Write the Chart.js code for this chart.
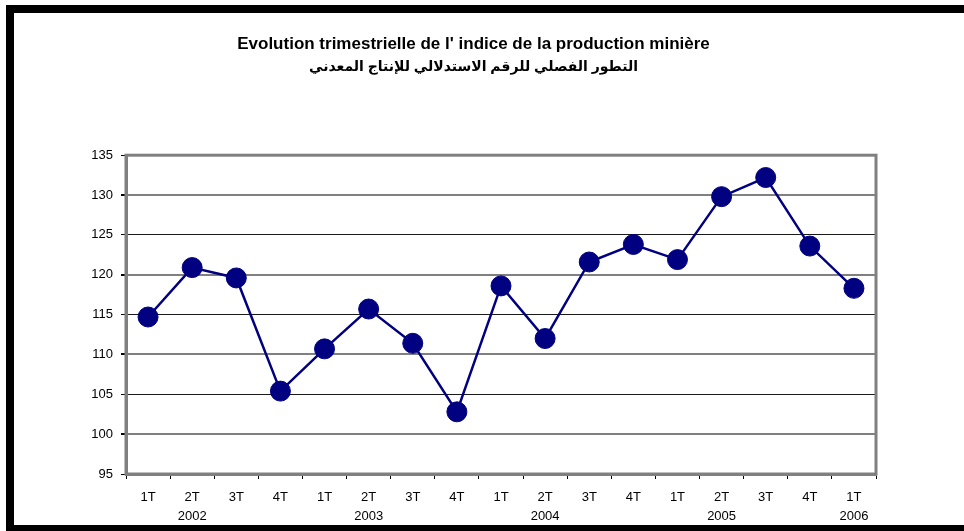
<!DOCTYPE html>
<html>
<head>
<meta charset="utf-8">
<script src="https://cdn.jsdelivr.net/npm/chart.js@4.4.1/dist/chart.umd.min.js"></script>
<style>
  html, body { margin: 0; padding: 0; background: #fff; overflow: hidden; }
  body { width: 964px; height: 531px; position: relative; }
  .frame {
    position: absolute; left: 6px; top: 5px; width: 1000px; height: 526px;
    box-sizing: border-box;
    border-top: 8px solid #000; border-left: 8px solid #000; border-bottom: 6px solid #000;
  }
  #chartMine { position: absolute; left: 0; top: 0; }
</style>
</head>
<body>
<div class="frame"></div>
<canvas id="chartMine" width="964" height="531"></canvas>
<script>
// ── données ──
const TITLE    = "Evolution trimestrielle de l' indice de la production minière";
const SUBTITLE = "التطور الفصلي للرقم الاستدلالي للإنتاج المعدني";

const quarters = ["1T","2T","3T","4T","1T","2T","3T","4T","1T","2T","3T","4T","1T","2T","3T","4T","1T"];
const years    = ["","2002","","","","2003","","","","2004","","","","2005","","","2006"];
const indice   = [114.7, 120.9, 119.6, 105.4, 110.7, 115.7, 111.4, 102.8,
                  118.6, 112.0, 121.6, 123.8, 121.9, 129.8, 132.2, 123.6, 118.3];
const yTicks   = { min: 95, max: 135, step: 5 };

const FONT  = "'Liberation Sans', Arial, 'DejaVu Sans', sans-serif";
const NAVY  = "#000080";
const GRAY  = "#808080";

const labels = quarters.map((q, i) => [q, years[i]]);

// cadre gris de la zone de tracé
const plotBorder = {
  id: "plotBorder",
  beforeDatasetsDraw(chart) {
    const { ctx, chartArea: a } = chart;
    ctx.save();
    ctx.strokeStyle = GRAY;
    ctx.lineWidth = 3;
    ctx.strokeRect(a.left, a.top, a.right - a.left, a.bottom - a.top);
    ctx.restore();
  }
};

new Chart(document.getElementById("chartMine"), {
  type: "line",
  data: {
    labels,
    datasets: [{
      data: indice,
      borderColor: NAVY,
      backgroundColor: NAVY,
      borderWidth: 2.5,
      pointRadius: 10,
      pointBackgroundColor: NAVY,
      pointBorderColor: NAVY,
      pointBorderWidth: 1,
      tension: 0,
      fill: false
    }]
  },
  plugins: [plotBorder],
  options: {
    responsive: false,
    animation: false,
    events: [],
    layout: { padding: { left: 71, right: 88, top: 0, bottom: 0 } },
    plugins: {
      legend: { display: false },
      tooltip: { enabled: false },
      title: {
        display: true,
        text: TITLE,
        color: "#000",
        font: { family: FONT, size: 17, weight: "bold", lineHeight: 1.2 },
        padding: { top: 34, bottom: 0 }
      },
      subtitle: {
        display: true,
        text: SUBTITLE,
        color: "#000",
        font: { family: FONT, size: 14, weight: "bold", lineHeight: 1.2 },
        padding: { top: 4, bottom: 80 }
      }
    },
    scales: {
      x: {
        offset: true,
        afterFit(scale) { scale.height = 57; },
        border: { color: GRAY, width: 3 },
        grid: { offset: true, drawOnChartArea: false, tickLength: 5, tickColor: "#000" },
        ticks: {
          color: "#000",
          padding: 9,
          maxRotation: 0,
          autoSkip: false,
          font: { family: FONT, size: 13, lineHeight: 1.45 }
        }
      },
      y: {
        min: yTicks.min,
        max: yTicks.max,
        afterFit(scale) { scale.width = 55; },
        border: { color: GRAY, width: 3 },
        grid: {
          tickLength: 5,
          tickColor: "#000",
          color: c => (c.tick && c.tick.value % 10 === 0) ? GRAY : "#1a1a1a",
          lineWidth: c => (c.tick && c.tick.value % 10 === 0) ? 2 : 1
        },
        ticks: {
          stepSize: yTicks.step,
          color: "#000",
          padding: 8,
          font: { family: FONT, size: 13 }
        }
      }
    }
  }
});
</script>
</body>
</html>
